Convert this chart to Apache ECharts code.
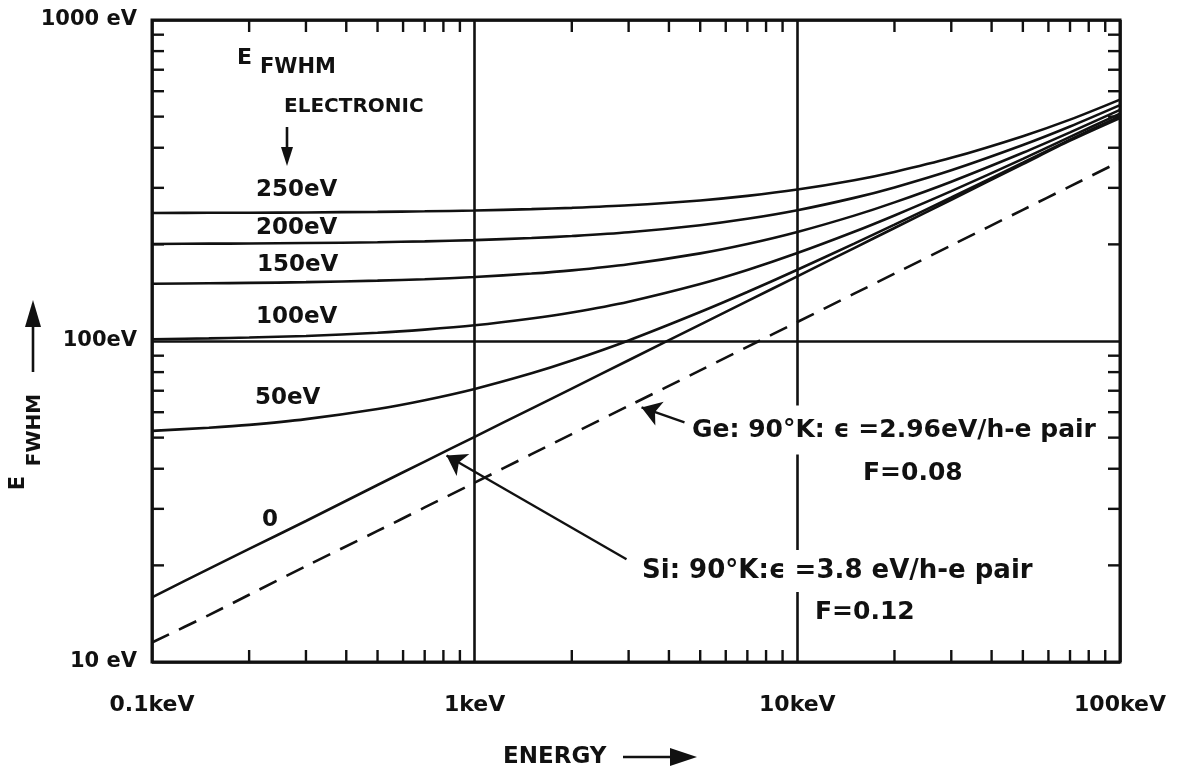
<!DOCTYPE html>
<html>
<head>
<meta charset="utf-8">
<title>E FWHM vs Energy</title>
<script src="https://cdn.jsdelivr.net/npm/echarts@6/dist/echarts.min.js"></script>
<style>
	html, body { margin: 0; padding: 0; background: #fff; }
	#chart { width: 1180px; height: 773px; }
</style>
</head>
<body>
<div id="chart"></div>
<script>
// energy points (keV)
const energyKeV = [0.1, 0.15, 0.2, 0.3, 0.5, 0.7, 1, 1.5, 2, 3, 5, 7, 10, 15, 20, 30, 50, 70, 100];

// E FWHM (eV) for each electronic noise level, Si detector
const noise250 = [250.5, 250.8, 251.0, 251.5, 252.5, 253.5, 255.0, 257.5, 259.9, 264.7, 274.1, 283.2, 296.3, 316.9, 336.3, 372.0, 434.7, 489.4, 565.0];
const noise200 = [200.6, 201.0, 201.3, 201.9, 203.1, 204.4, 206.2, 209.3, 212.3, 218.1, 229.5, 240.2, 255.5, 279.2, 301.0, 340.4, 408.0, 465.9, 543.0];
const noise150 = [150.8, 151.3, 151.7, 152.5, 154.2, 155.8, 158.2, 162.2, 166.0, 173.5, 187.5, 200.5, 218.6, 245.8, 270.3, 313.6, 385.9, 446.7, 524.8];
const noise100 = [101.3, 101.9, 102.5, 103.7, 106.1, 108.5, 111.9, 117.5, 122.7, 132.6, 150.5, 166.4, 187.9, 218.9, 246.1, 293.0, 369.4, 432.5, 511.0];
const noise50 = [52.5, 53.7, 54.8, 57.1, 61.4, 65.4, 70.9, 79.3, 86.9, 100.4, 123.1, 142.1, 166.7, 201.1, 230.4, 279.9, 359.1, 423.7, 502.0];
const siZero = [15.9, 19.5, 22.5, 27.5, 35.6, 42.1, 50.3, 61.6, 71.1, 87.1, 112.5, 133.1, 159.0, 194.8, 224.9, 275.5, 355.6, 420.8, 495.0];
// Ge, no electronic noise (dashed)
const geZero = [11.5, 14.0, 16.2, 19.9, 25.6, 30.3, 36.2, 44.4, 51.3, 62.8, 81.0, 95.9, 114.6, 140.4, 162.1, 198.5, 256.3, 303.2, 362.4];

// tick labels
const xTickLabels = ['0.1keV', '1keV', '10keV', '100keV'];
const yTickLabels = ['10 eV', '100eV', '1000 eV'];
const xMinorTicks = [0.2, 0.3, 0.4, 0.5, 0.6, 0.7, 0.8, 0.9, 2, 3, 4, 5, 6, 7, 8, 9, 20, 30, 40, 50, 60, 70, 80, 90];
const yMinorTicks = [20, 30, 40, 50, 60, 70, 80, 90, 200, 300, 400, 500, 600, 700, 800, 900];

// annotation arrows: [tip, tail] in data units
const geArrow = [[3.29, 62.1], [4.47, 55.8]];
const siArrow = [[0.818, 44.0], [2.955, 20.9]];

const FONT = '"DejaVu Sans", "Liberation Sans", sans-serif';
const INK = '#111';
const tickLen = 12;

function pairUp(xs, ys){
	let result = [];
	for(let i = 0; i < xs.length; i++){
		result.push([xs[i], ys[i]]);
	}
	return result;
}

function curve(name, ys, dashed){
	return {
		name: name,
		type: 'line',
		data: pairUp(energyKeV, ys),
		showSymbol: false,
		symbol: 'none',
		smooth: 0.3,
		silent: true,
		z: 5,
		lineStyle: { color: INK, width: 2.6, type: dashed ? [19, 11] : 'solid' }
	};
}

function arrowLine(pts){
	return {
		silent: true,
		symbol: ['arrow', 'none'],
		symbolSize: 19,
		label: { show: false },
		lineStyle: { color: INK, width: 2.4, type: 'solid' },
		data: [[{ coord: pts[0] }, { coord: pts[1] }]]
	};
}

// minor ticks on the bottom and top edges, pointing inward
function renderXTick(params, api){
	let v = api.value(0);
	let b = api.coord([v, 10]);
	let t = api.coord([v, 1000]);
	let st = { stroke: INK, lineWidth: 2.4 };
	return { type: 'group', children: [
		{ type: 'line', shape: { x1: b[0], y1: b[1], x2: b[0], y2: b[1] - tickLen }, style: st },
		{ type: 'line', shape: { x1: t[0], y1: t[1], x2: t[0], y2: t[1] + tickLen }, style: st }
	]};
}

// minor ticks on the left and right edges
function renderYTick(params, api){
	let v = api.value(1);
	let l = api.coord([0.1, v]);
	let r = api.coord([100, v]);
	let st = { stroke: INK, lineWidth: 2.4 };
	return { type: 'group', children: [
		{ type: 'line', shape: { x1: l[0], y1: l[1], x2: l[0] + tickLen, y2: l[1] }, style: st },
		{ type: 'line', shape: { x1: r[0], y1: r[1], x2: r[0] - tickLen, y2: r[1] }, style: st }
	]};
}

function txt(str, x, y, size, extra, rot){
	let style = {
		text: str, fill: INK, fontFamily: FONT, fontWeight: 'bold', fontSize: size,
		align: 'left', verticalAlign: 'middle'
	};
	if (extra){
		for (let k in extra) style[k] = extra[k];
	}
	return { type: 'text', x: x, y: y, z: 100, rotation: rot || 0, style: style };
}

let chart = echarts.init(document.getElementById('chart'), null, { renderer: 'canvas' });

let axisFont = { color: INK, fontFamily: FONT, fontWeight: 'bold', fontSize: 22 };

let series = [
	curve('250eV', noise250),
	curve('200eV', noise200),
	curve('150eV', noise150),
	curve('100eV', noise100),
	curve('50eV', noise50),
	curve('0', siZero),
	curve('Ge', geZero, true),
	{
		type: 'custom', renderItem: renderXTick, clip: false, silent: true, z: 6,
		encode: { x: 0, y: 1 },
		data: xMinorTicks.map(v => [v, 10])
	},
	{
		type: 'custom', renderItem: renderYTick, clip: false, silent: true, z: 6,
		encode: { x: 0, y: 1 },
		data: yMinorTicks.map(v => [0.1, v])
	}
];
series[5].markLine = arrowLine(siArrow);
series[6].markLine = arrowLine(geArrow);

let option = {
	animation: false,
	backgroundColor: '#fff',
	grid: {
		left: 152, right: 60, top: 20, bottom: 111,
		show: true, borderColor: INK, borderWidth: 3, backgroundColor: 'transparent'
	},
	xAxis: {
		type: 'log', logBase: 10, min: 0.1, max: 100,
		axisLine: { show: false },
		axisTick: { show: false },
		splitLine: { show: true, lineStyle: { color: INK, width: 2.6 } },
		axisLabel: Object.assign({
			margin: 32,
			showMinLabel: true, showMaxLabel: true,
			formatter: v => xTickLabels[Math.round(Math.log10(v)) + 1]
		}, axisFont)
	},
	yAxis: {
		type: 'log', logBase: 10, min: 10, max: 1000,
		axisLine: { show: false },
		axisTick: { show: false },
		splitLine: { show: true, lineStyle: { color: INK, width: 2.6 } },
		axisLabel: Object.assign({
			margin: 15,
			showMinLabel: true, showMaxLabel: true,
			formatter: v => yTickLabels[Math.round(Math.log10(v)) - 1]
		}, axisFont, { fontSize: 21 })
	},
	series: series,
	graphic: [
		// heading inside the plot
		txt('E', 237, 58, 22),
		txt('FWHM', 260, 68, 21),
		txt('ELECTRONIC', 284, 107, 20),
		{ type: 'line', z: 100, shape: { x1: 287, y1: 127, x2: 287, y2: 150 }, style: { stroke: INK, lineWidth: 2.6 } },
		{ type: 'polygon', z: 100, shape: { points: [[287, 166], [281, 147], [293, 147]] }, style: { fill: INK } },
		// curve labels
		txt('250eV', 256, 190, 23),
		txt('200eV', 256, 228, 23),
		txt('150eV', 257, 265, 23),
		txt('100eV', 256, 317, 23),
		txt('50eV', 255, 398, 23),
		txt('0', 262, 520, 23),
		// detector notes
		txt('Ge: 90°K: ϵ =2.96eV/h-e pair', 692, 430, 25, { backgroundColor: '#fff', padding: [12, 0, 12, 0] }),
		txt('F=0.08', 863, 473, 25),
		txt('Si: 90°K:ϵ =3.8 eV/h-e pair', 642, 571, 26, { backgroundColor: '#fff', padding: [8, 0, 8, 0] }),
		txt('F=0.12', 815, 612, 25),
		// y axis title with arrow
		txt('E', 19, 483, 21, { align: 'center' }, Math.PI / 2),
		txt('FWHM', 35, 430, 20, { align: 'center' }, Math.PI / 2),
		{ type: 'line', z: 100, shape: { x1: 33, y1: 372, x2: 33, y2: 320 }, style: { stroke: INK, lineWidth: 2.6 } },
		{ type: 'polygon', z: 100, shape: { points: [[33, 300], [25, 327], [41, 327]] }, style: { fill: INK } },
		// x axis title with arrow
		txt('ENERGY', 503, 757, 23),
		{ type: 'line', z: 100, shape: { x1: 623, y1: 757, x2: 675, y2: 757 }, style: { stroke: INK, lineWidth: 2.6 } },
		{ type: 'polygon', z: 100, shape: { points: [[697, 757], [670, 748], [670, 766]] }, style: { fill: INK } }
	]
};

chart.setOption(option);
</script>
</body>
</html>
